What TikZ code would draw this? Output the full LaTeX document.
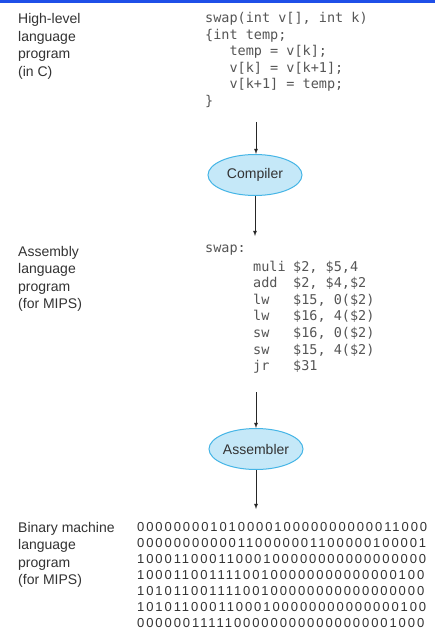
\documentclass[tikz,border=0pt]{standalone}
\usepackage{fontspec}
\setmainfont{Liberation Sans}
\newfontfamily\codefont{DejaVu Sans Mono}
\usetikzlibrary{shapes.geometric,positioning}
\definecolor{barblue}{HTML}{1F4FE8}
\definecolor{toolfill}{HTML}{C5E8F8}
\definecolor{toolline}{HTML}{45B5E6}
\definecolor{txtgray}{HTML}{333333}
\definecolor{codegray}{HTML}{555555}

\tikzset{
  lbl/.style={anchor=base west, inner sep=0pt, text=txtgray, font=\fontsize{14}{17}\selectfont},
  code/.style={anchor=base west, inner sep=0pt, text=codegray, font=\codefont\fontsize{13.5}{16}\selectfont},
  bits/.style={anchor=base west, inner sep=0pt, text=txtgray, font=\fontsize{13}{16}\selectfont\addfontfeature{LetterSpace=14.8}},
  tool/.style={ellipse, draw=toolline, fill=toolfill, line width=1pt, minimum width=94pt, minimum height=41pt, inner sep=0pt, text=txtgray, font=\fontsize{14}{17}\selectfont},
  flow/.style={->, >=latex, line width=0.8pt, draw=black!85}
}

\begin{document}
\begin{tikzpicture}[x=1pt, y=-1pt]
                \useasboundingbox (0, 0) rectangle (435, 631);
                \fill[white] (0, 0) rectangle (435, 631);
                \fill[barblue] (0, 0) rectangle (435, 3);

                % Labels on the left
                \foreach \txt [count=\i from 0] in {High-level, language, program, (in C)}
                    \node[lbl] (hl\i) at (18, 24+17.5*\i) {\txt};
                \foreach \txt [count=\i from 0] in {Assembly, language, program, (for MIPS)}
                    \node[lbl] (as\i) at (18, 256+17.5*\i) {\txt};
                \foreach \txt [count=\i from 0] in {Binary machine, language, program, (for MIPS)}
                    \node[lbl] (bm\i) at (18, 532+17.5*\i) {\txt};

                % C source
                \foreach \txt [count=\i from 0] in {{swap(int v[], int k)}, {\{int temp;}, {\ \ \ temp = v[k];}, {\ \ \ v[k] = v[k+1];}, {\ \ \ v[k+1] = temp;}, \}}
                    \node[code] (src\i) at (205, 22.5+16.6*\i) {\txt};

                % Assembly
                \node[code] (swaplbl) at (205, 252.5) {swap:};
                \foreach \op/\args [count=\i from 0] in {muli/{\$2, \$5,4}, add/{\$2, \$4,\$2}, lw/{\$15, 0(\$2)}, lw/{\$16, 4(\$2)}, sw/{\$16, 0(\$2)}, sw/{\$15, 4(\$2)}, jr/{\$31}}
                {
                    \node[code] (op\i) at (253, 271+16.6*\i) {\op};
                    \node[code] (arg\i) at (293, 271+16.6*\i) {\args};
                }

                % Machine code
                \foreach \txt [count=\i from 0] in {
                    00000000101000010000000000011000,
                    00000000000110000001100000100001,
                    10001100011000100000000000000000,
                    10001100111100100000000000000100,
                    10101100111100100000000000000000,
                    10101100011000100000000000000100,
                    00000011111000000000000000001000}
                    \node[bits] (bin\i) at (137, 531+16.1*\i) {\txt};

                % Translators
                \node[tool] (compiler) at (255, 175) {Compiler};
                \node[tool] (assembler) at (256, 449) {Assembler};

                \coordinate (srcend) at (256, 122);
                \coordinate (asmin) at (256, 236);
                \coordinate (asmend) at (256, 392);
                \coordinate (binin) at (256, 509);

                \draw[flow] (srcend) -- (srcend |- compiler.north);
                \draw[flow] (compiler.south) -- (compiler.south |- asmin);
                \draw[flow] (asmend) -- (asmend |- assembler.north);
                \draw[flow] (assembler.south) -- (assembler.south |- binin);

            \end{tikzpicture}
\end{document}
